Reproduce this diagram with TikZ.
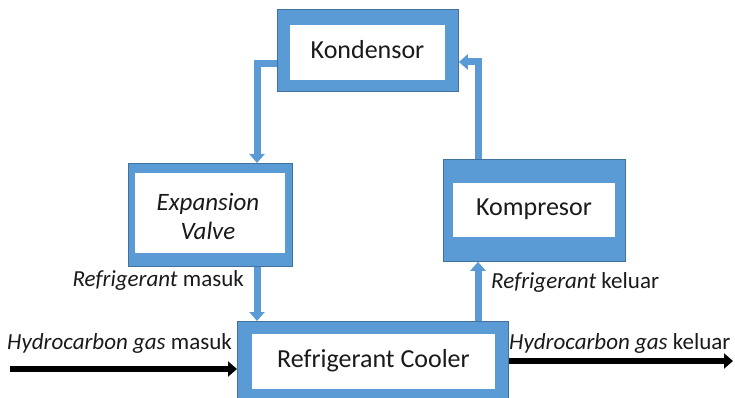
\documentclass[tikz,border=0pt]{standalone}
\usepackage{fontspec}
\setmainfont{Carlito}
\usetikzlibrary{arrows.meta}
\definecolor{boxblue}{HTML}{5B9BD5}
\definecolor{edgeblue}{HTML}{41719C}
\definecolor{txt}{HTML}{1A1A1A}
\tikzset{
  outerbox/.style={draw=edgeblue, line width=0.8pt, fill=boxblue, anchor=north west, inner sep=0pt},
  innerbox/.style={fill=white, anchor=north west, inner sep=0pt},
  boxtext/.style={text=txt, inner sep=0pt, font=\fontsize{26}{30}\selectfont},
  flow/.style={draw=boxblue, line width=7pt, -{Triangle[width=15pt,length=9pt]}},
  gas/.style={draw=black, line width=6pt, -{Triangle[width=15pt,length=9pt]}},
  lbl/.style={text=txt, inner sep=0pt, font=\fontsize{23}{27}\selectfont}
}
\begin{document}
\begin{tikzpicture}[x=1pt,y=-1pt]
\useasboundingbox (0,0) rectangle (735,398);
% Kondensor
\node[outerbox, minimum width=181pt, minimum height=82pt] (kond) at (277,9) {};
\node[innerbox, minimum width=155pt, minimum height=55pt] (kondin) at (290,25) {};
\node[boxtext] (kondt) at (367.5,50) {Kondensor};
% Expansion valve
\node[outerbox, minimum width=164pt, minimum height=103pt] (exp) at (128,163) {};
\node[innerbox, minimum width=150pt, minimum height=80pt] (expin) at (135,173) {};
\node[boxtext, font=\fontsize{25}{29}\selectfont\itshape, align=center] (expt) at (208,216) {Expansion\\Valve};
% Kompresor
\node[outerbox, minimum width=182pt, minimum height=102pt] (komp) at (443,159) {};
\node[innerbox, minimum width=162pt, minimum height=54pt] (kompin) at (453,183) {};
\node[boxtext] (kompt) at (534,209) {Kompresor};
% Refrigerant cooler
\node[outerbox, minimum width=271pt, minimum height=90pt] (cool) at (237,321) {};
\node[innerbox, minimum width=243pt, minimum height=55pt] (coolin) at (252,334) {};
\node[boxtext] (coolt) at (373.5,361) {Refrigerant Cooler};
% connectors
\coordinate (k1) at (kond.west |- 0,64);
\coordinate (k2) at (257,64);
\draw[flow] (k1) -- (k2) -- (k2 |- exp.north);
\coordinate (e1) at (257,0);
\draw[flow] (e1 |- exp.south) -- (e1 |- cool.north);
\coordinate (c1) at (478,0);
\draw[flow] (c1 |- cool.north) -- (c1 |- komp.south);
\coordinate (c2) at (478,62);
\draw[flow] (c1 |- komp.north) -- (c2) -- (c2 -| kond.east);
% gas arrows
\coordinate (gin) at (10,369);
\draw[gas] (gin) -- (gin -| cool.west);
\coordinate (gout) at (733,361);
\draw[gas] (gout -| cool.east) -- (gout);
% labels
\node[lbl, anchor=east] (l1) at (244,280) {\textit{Refrigerant} masuk};
\node[lbl, anchor=west] (l2) at (7,343) {\textit{Hydrocarbon gas} masuk};
\node[lbl, anchor=west] (l3) at (491,282) {\textit{Refrigerant} keluar};
\node[lbl, anchor=west] (l4) at (509,343) {\textit{Hydrocarbon gas} keluar};
\end{tikzpicture}
\end{document}
